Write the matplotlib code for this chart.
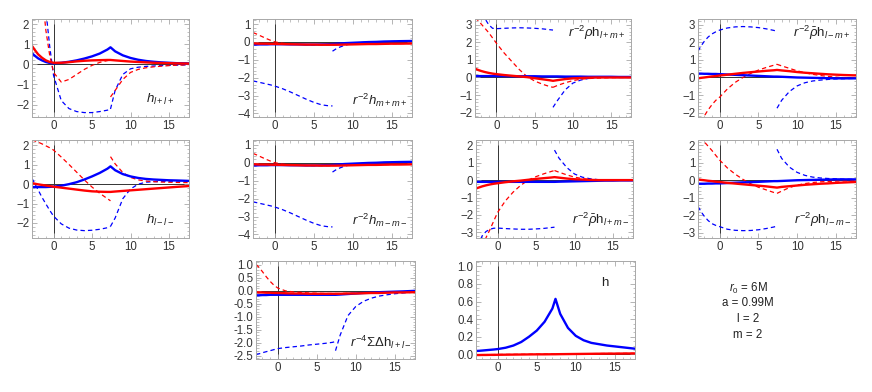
import matplotlib
matplotlib.use("Agg")
import matplotlib.pyplot as plt
from matplotlib.ticker import MultipleLocator

plt.rcParams['font.family'] = ['Liberation Sans', 'DejaVu Sans']
plt.rcParams['mathtext.fontset'] = 'custom'
plt.rcParams['mathtext.rm'] = 'Liberation Sans'
plt.rcParams['mathtext.it'] = 'Liberation Sans:italic'

# sample points (tortoise coordinate); the source sits at r* ~ 7.4
XL = [-2.8, -2.4, -2, -1.5, -1, -0.5, 0, 1, 2, 3, 4, 5, 6, 7, 7.4]
XR = [7.4, 8, 9, 10, 11, 12, 13, 14, 15, 16, 17.5]
XF = XL + XR[1:]

# ---- h_{l+l+}
p1_blue = [0.55, 0.42, 0.3, 0.2, 0.12, 0.07, 0.05, 0.08, 0.13, 0.2, 0.29, 0.4, 0.54, 0.74, 0.85,
           0.65, 0.45, 0.32, 0.23, 0.17, 0.13, 0.1, 0.08, 0.06, 0.05]
p1_red = [0.92, 0.7, 0.5, 0.33, 0.2, 0.12, 0.08, 0.08, 0.11, 0.15, 0.18, 0.2, 0.21, 0.22, 0.22,
          0.2, 0.17, 0.14, 0.12, 0.1, 0.08, 0.07, 0.06, 0.05, 0.04]
p1_red_dl = [9, 7.5, 6, 3.6, 1.7, 0.45, -0.4, -0.88, -0.75, -0.5, -0.25, -0.05, 0.1, 0.19, 0.22]
p1_red_dr = [-1.62, -1.3, -0.75, -0.4, -0.25, -0.17, -0.12, -0.09, -0.06, -0.04, -0.02]
p1_blue_dl = [12, 10, 8, 5, 2.7, 0.9, -0.55, -1.8, -2.2, -2.35, -2.4, -2.4, -2.35, -2.28, -2.22]
p1_blue_dr = [-2.22, -1.3, -0.5, -0.22, -0.14, -0.1, -0.08, -0.06, -0.05, -0.04, -0.02]

# ---- r^-2 h_{m+m+}  (h_{m-m-} looks the same)
p2_blue = [-0.15, -0.15, -0.14, -0.14, -0.14, -0.13, -0.13, -0.13, -0.14, -0.14, -0.15, -0.15, -0.14,
           -0.13, -0.12, -0.1, -0.07, -0.05, -0.03, -0.01, 0.0, 0.02, 0.03, 0.04, 0.05]
p2_red = [-0.08, -0.09, -0.1, -0.1, -0.1, -0.11, -0.11, -0.12, -0.13, -0.14, -0.15, -0.15, -0.16,
          -0.16, -0.16, -0.16, -0.15, -0.14, -0.13, -0.12, -0.12, -0.11, -0.1, -0.1, -0.09]
p2_red_dl = [0.52, 0.45, 0.37, 0.27, 0.17, 0.08, 0.0, -0.08, -0.12, -0.14, -0.15, -0.16, -0.16, -0.16, -0.16]
p2_red_dr = [-0.16, -0.15, -0.14, -0.13, -0.12, -0.11, -0.11, -0.1, -0.1, -0.09, -0.09]
p2_blue_dl = [-2.18, -2.22, -2.26, -2.31, -2.36, -2.41, -2.47, -2.62, -2.8, -3.0, -3.2, -3.38, -3.52, -3.58, -3.58]
p2_blue_dr = [-0.52, -0.35, -0.18, -0.09, -0.04, -0.01, 0.0, 0.01, 0.02, 0.03, 0.04]

# ---- r^-2 rho h_{l+m+}
p3_blue = [0.08, 0.08, 0.08, 0.08, 0.08, 0.08, 0.08, 0.08, 0.07, 0.07, 0.07, 0.07, 0.06, 0.06, 0.06,
           0.06, 0.05, 0.05, 0.05, 0.04, 0.04, 0.04, 0.04, 0.03, 0.03]
p3_red = [0.5, 0.43, 0.37, 0.31, 0.26, 0.22, 0.19, 0.14, 0.1, 0.06, 0.02, -0.04, -0.1, -0.16, -0.19,
          -0.15, -0.09, -0.05, -0.03, -0.01, 0.0, 0.0, 0.0, 0.0, 0.0]
p3_red_dl = [3.4, 3.25, 3.05, 2.8, 2.55, 2.25, 1.95, 1.4, 0.92, 0.45, 0.05, -0.2, -0.38, -0.52, -0.56]
p3_red_dr = [-0.56, -0.45, -0.3, -0.18, -0.1, -0.06, -0.04, -0.02, -0.01, 0.0, 0.0]
p3_blue_dl = [5.5, 4.5, 3.9, 3.35, 3.0, 2.8, 2.78, 2.8, 2.82, 2.83, 2.82, 2.8, 2.77, 2.72, 2.7]
p3_blue_dr = [-1.7, -1.3, -0.7, -0.32, -0.15, -0.06, 0.0, 0.02, 0.03, 0.03, 0.03]

# ---- r^-2 rhobar h_{l-m+}
p4_blue = [0.22, 0.22, 0.21, 0.21, 0.2, 0.2, 0.19, 0.17, 0.15, 0.13, 0.11, 0.09, 0.07, 0.05, 0.05,
           0.04, 0.02, 0.0, -0.01, -0.02, -0.03, -0.04, -0.05, -0.05, -0.05]
p4_red = [-0.05, -0.02, 0.0, 0.03, 0.06, 0.08, 0.11, 0.16, 0.21, 0.26, 0.3, 0.34, 0.38, 0.41, 0.43,
          0.4, 0.36, 0.31, 0.27, 0.24, 0.21, 0.18, 0.16, 0.14, 0.12]
p4_red_dl = [-2.9, -2.55, -2.2, -1.85, -1.55, -1.3, -1.12, -0.65, -0.28, 0.0, 0.23, 0.42, 0.57, 0.7, 0.75]
p4_red_dr = [0.75, 0.66, 0.52, 0.38, 0.27, 0.18, 0.11, 0.06, 0.02, -0.01, -0.03]
p4_blue_dl = [1.5, 1.8, 2.05, 2.3, 2.48, 2.6, 2.7, 2.82, 2.88, 2.9, 2.88, 2.84, 2.77, 2.68, 2.63]
p4_blue_dr = [-1.75, -1.3, -0.8, -0.48, -0.3, -0.2, -0.15, -0.11, -0.08, -0.07, -0.05]

# ---- h_{l-l-}
p5_blue = [-0.15, -0.15, -0.15, -0.15, -0.15, -0.14, -0.13, -0.08, 0.0, 0.1, 0.24, 0.4, 0.58, 0.8, 0.92,
           0.72, 0.52, 0.4, 0.32, 0.27, 0.24, 0.22, 0.2, 0.19, 0.17]
p5_red = [0.05, 0.02, -0.01, -0.04, -0.07, -0.1, -0.13, -0.18, -0.23, -0.28, -0.33, -0.37, -0.39, -0.4, -0.4,
          -0.38, -0.35, -0.32, -0.29, -0.26, -0.23, -0.2, -0.17, -0.14, -0.1]
p5_red_dl = [2.28, 2.23, 2.17, 2.08, 1.98, 1.88, 1.76, 1.4, 1.02, 0.62, 0.22, -0.15, -0.47, -0.75, -0.86]
p5_red_dr = [1.42, 1.05, 0.6, 0.35, 0.22, 0.16, 0.13, 0.11, 0.1, 0.09, 0.08]
p5_blue_dl = [0.3, 0.0, -0.3, -0.68, -1.02, -1.35, -1.65, -2.05, -2.27, -2.37, -2.4, -2.38, -2.33, -2.25, -2.18]
p5_blue_dr = [-2.18, -1.75, -0.75, -0.25, 0.0, 0.1, 0.13, 0.14, 0.15, 0.16, 0.17]

# ---- r^-2 rhobar h_{l+m-}
p7_blue = [-0.1] * 15 + [-0.09, -0.08, -0.07, -0.06, -0.05, -0.04, -0.03, -0.03, -0.02, -0.02]
p7_red = [-0.48, -0.42, -0.36, -0.3, -0.25, -0.21, -0.18, -0.12, -0.07, -0.03, 0.02, 0.07, 0.11, 0.15, 0.17,
          0.14, 0.09, 0.05, 0.03, 0.01, 0.0, 0.0, 0.0, 0.0, 0.0]
p7_red_dl = [-5.5, -4.6, -4.0, -3.3, -2.85, -2.35, -1.86, -1.2, -0.7, -0.3, 0.0, 0.2, 0.36, 0.5, 0.55]
p7_red_dr = [0.55, 0.45, 0.3, 0.17, 0.09, 0.04, 0.02, 0.01, 0.0, 0.0, 0.0]
p7_blue_dl = [-4.2, -3.6, -3.2, -2.95, -2.82, -2.76, -2.75, -2.78, -2.8, -2.82, -2.82, -2.8, -2.77, -2.72, -2.7]
p7_blue_dr = [1.72, 1.25, 0.72, 0.35, 0.17, 0.08, 0.03, 0.01, 0.0, -0.01, -0.02]

# ---- r^-2 rho h_{l-m-}
p8_blue = [-0.2, -0.2, -0.2, -0.19, -0.19, -0.18, -0.18, -0.16, -0.14, -0.12, -0.11, -0.09, -0.07, -0.05, -0.05,
           -0.04, -0.02, 0.0, 0.01, 0.02, 0.03, 0.04, 0.05, 0.05, 0.05]
p8_red = [0.05, 0.02, 0.0, -0.03, -0.05, -0.08, -0.1, -0.15, -0.19, -0.23, -0.27, -0.31, -0.35, -0.4, -0.42,
          -0.38, -0.34, -0.3, -0.26, -0.23, -0.2, -0.18, -0.15, -0.13, -0.1]
p8_red_dl = [2.9, 2.55, 2.2, 1.95, 1.7, 1.42, 1.15, 0.7, 0.35, 0.05, -0.2, -0.4, -0.55, -0.7, -0.75]
p8_red_dr = [-0.75, -0.62, -0.42, -0.28, -0.19, -0.13, -0.09, -0.07, -0.05, -0.04, -0.03]
p8_blue_dl = [-1.5, -1.8, -2.05, -2.3, -2.48, -2.58, -2.65, -2.8, -2.86, -2.88, -2.87, -2.83, -2.76, -2.67, -2.62]
p8_blue_dr = [1.77, 1.25, 0.75, 0.45, 0.28, 0.18, 0.13, 0.1, 0.08, 0.06, 0.05]

# ---- r^-4 Sigma Delta h_{l+l-}
p9_blue = [-0.17, -0.17, -0.16, -0.16, -0.15, -0.15, -0.15, -0.15, -0.15, -0.15, -0.15, -0.15, -0.15, -0.15, -0.15,
           -0.14, -0.12, -0.1, -0.08, -0.07, -0.05, -0.04, -0.03, -0.02, 0.0]
p9_red = [-0.05, -0.06, -0.06, -0.07, -0.07, -0.08, -0.08, -0.09, -0.1, -0.1, -0.11, -0.11, -0.11, -0.11, -0.11,
          -0.11, -0.1, -0.1, -0.09, -0.08, -0.08, -0.07, -0.06, -0.06, -0.05]
p9_red_dl = [1.02, 0.9, 0.75, 0.55, 0.37, 0.22, 0.11, 0.0, -0.04, -0.06, -0.08, -0.09, -0.1, -0.1, -0.1]
p9_red_dr = [-0.1, -0.1, -0.09, -0.09, -0.08, -0.07, -0.07, -0.06, -0.06, -0.05, -0.05]
p9_blue_dl = [-2.45, -2.42, -2.38, -2.34, -2.3, -2.26, -2.22, -2.18, -2.15, -2.12, -2.08, -2.05, -2.02, -1.98, -1.95]
p9_blue_dr = [-2.3, -1.7, -0.95, -0.6, -0.4, -0.28, -0.2, -0.15, -0.11, -0.08, -0.05]

# ---- h
p10_blue = [0.038, 0.04, 0.043, 0.047, 0.051, 0.055, 0.06, 0.075, 0.1, 0.14, 0.2, 0.27, 0.37, 0.52, 0.63,
            0.46, 0.3, 0.21, 0.16, 0.13, 0.115, 0.1, 0.09, 0.08, 0.065]
p10_red = [-0.008, -0.008, -0.007, -0.007, -0.006, -0.006, -0.005, -0.004, -0.003, -0.002, -0.001, 0.0, 0.0,
           0.001, 0.001, 0.002, 0.003, 0.004, 0.005, 0.006, 0.007, 0.008, 0.008, 0.009, 0.01]
p10_red_dl = [-0.004, -0.004, -0.003, -0.003, -0.003, -0.002, -0.002, -0.001, 0.0, 0.0, 0.001, 0.002, 0.003, 0.003, 0.004]
p10_red_dr = [0.004, 0.005, 0.006, 0.007, 0.008, 0.008, 0.009, 0.01, 0.01, 0.011, 0.012]

panels = [
    # (pixel box l,t,r,b), ylim, y major, y minor, label, label pos, curves
    ((32, 19, 189, 117), (-2.62, 2.26), 1, 0.2, r"$h_{l+l+}$", (0.91, 0.18),
     (p1_blue, p1_red, p1_red_dl, p1_red_dr, p1_blue_dl, p1_blue_dr)),
    ((253, 19, 412, 117), (-4.2, 1.28), 1, 0.2, r"$r^{-2}h_{m+m+}$", (0.975, 0.17),
     (p2_blue, p2_red, p2_red_dl, p2_red_dr, p2_blue_dl, p2_blue_dr)),
    ((475, 19, 631, 117), (-2.25, 3.33), 1, 0.2, r"$r^{-2}\rho\mathrm{h}_{l+m+}$", (0.97, 0.86),
     (p3_blue, p3_red, p3_red_dl, p3_red_dr, p3_blue_dl, p3_blue_dr)),
    ((698, 19, 856, 117), (-2.25, 3.33), 1, 0.2, r"$r^{-2}\bar{\rho}\mathrm{h}_{l-m+}$", (0.97, 0.86),
     (p4_blue, p4_red, p4_red_dl, p4_red_dr, p4_blue_dl, p4_blue_dr)),
    ((32, 140, 189, 238), (-2.78, 2.28), 1, 0.2, r"$h_{l-l-}$", (0.91, 0.18),
     (p5_blue, p5_red, p5_red_dl, p5_red_dr, p5_blue_dl, p5_blue_dr)),
    ((253, 140, 412, 238), (-4.2, 1.27), 1, 0.2, r"$r^{-2}h_{m-m-}$", (0.975, 0.18),
     (p2_blue, p2_red, p2_red_dl, p2_red_dr, p2_blue_dl, p2_blue_dr)),
    ((476, 140, 633, 238), (-3.32, 2.3), 1, 0.2, r"$r^{-2}\bar{\rho}\mathrm{h}_{l+m-}$", (0.98, 0.18),
     (p7_blue, p7_red, p7_red_dl, p7_red_dr, p7_blue_dl, p7_blue_dr)),
    ((698, 140, 856, 238), (-3.3, 2.3), 1, 0.2, r"$r^{-2}\rho\mathrm{h}_{l-m-}$", (0.975, 0.18),
     (p8_blue, p8_red, p8_red_dl, p8_red_dr, p8_blue_dl, p8_blue_dr)),
    ((256, 261, 415, 359), (-2.62, 1.15), 0.5, 0.1, r"$r^{-4}\Sigma\Delta\mathrm{h}_{l+l-}$", (0.98, 0.17),
     (p9_blue, p9_red, p9_red_dl, p9_red_dr, p9_blue_dl, p9_blue_dr)),
    ((476, 261, 635, 359), (-0.053, 1.06), 0.2, 0.05, r"$\mathrm{h}$", (0.84, 0.78),
     (p10_blue, p10_red, p10_red_dl, p10_red_dr, None, None)),
]

W, H = 872, 392
fig = plt.figure(figsize=(W / 100, H / 100), dpi=100)

BLUE = '#0000ff'
RED = '#ff0000'
frame_col = '#a8a8a8'

for box, ylim, ymaj, ymin, label, lpos, curves in panels:
    l, t, r, b = box
    ax = fig.add_axes([l / W, 1 - b / H, (r - l) / W, (b - t) / H])
    blue, red, red_dl, red_dr, blue_dl, blue_dr = curves
    if blue_dl is not None:
        ax.plot(XL, blue_dl, color=BLUE, lw=0.9, dashes=(3.5, 2.5))
        ax.plot(XR, blue_dr, color=BLUE, lw=0.9, dashes=(3.5, 2.5))
    ax.plot(XL, red_dl, color=RED, lw=0.9, dashes=(3.5, 2.5))
    ax.plot(XR, red_dr, color=RED, lw=0.9, dashes=(3.5, 2.5))
    ax.plot(XF, blue, color=BLUE, lw=1.7, solid_joinstyle='round')
    ax.plot(XF, red, color=RED, lw=1.7, solid_joinstyle='round')
    ax.axhline(0, color='#333333', lw=0.7, zorder=0)
    ax.axvline(0, color='#333333', lw=0.7, zorder=0)
    ax.set_xlim(-2.8, 17.6)
    ax.set_ylim(*ylim)
    ax.xaxis.set_major_locator(MultipleLocator(5))
    ax.xaxis.set_minor_locator(MultipleLocator(1))
    ax.yaxis.set_major_locator(MultipleLocator(ymaj))
    ax.yaxis.set_minor_locator(MultipleLocator(ymin))
    if ymaj < 1:
        ax.yaxis.set_major_formatter(plt.FormatStrFormatter('%.1f'))
    ax.tick_params(which='both', direction='in', top=True, right=True,
                   color=frame_col, labelsize=8.3, labelcolor='#333333', pad=2)
    ax.tick_params(which='major', length=3.5, width=0.6)
    ax.tick_params(which='minor', length=1.8, width=0.5)
    for s in ax.spines.values():
        s.set_color(frame_col)
        s.set_linewidth(0.7)
    ax.text(lpos[0], lpos[1], label, transform=ax.transAxes, ha='right', va='center',
            fontsize=9.5, color='#222222')

info = [r"$r_0$ = 6M", "a = 0.99M", "l = 2", "m = 2"]
for i, s in enumerate(info):
    fig.text(748 / W, 1 - (288 + 15.5 * i) / H, s, ha='center', va='center', fontsize=8.3, color='#222222')

fig.savefig('out.png', dpi=100)
